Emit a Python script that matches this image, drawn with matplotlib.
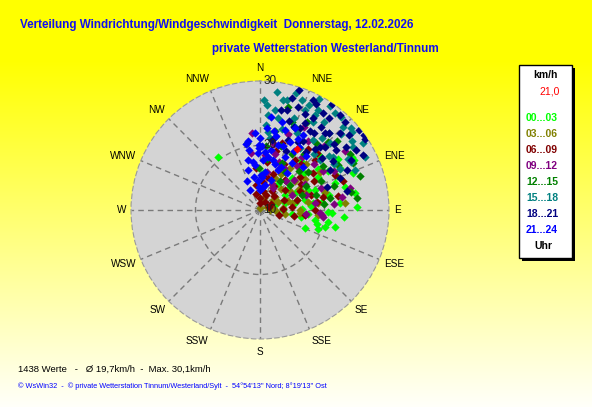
import numpy as np
import matplotlib
matplotlib.use("Agg")
import matplotlib.pyplot as plt
from matplotlib.patches import Rectangle

plt.rcParams["font.family"] = ["Liberation Sans", "DejaVu Sans"]

# wind direction (deg) / speed (km/h) samples, grouped by hour of day
hour_bins = ["00...03", "03...06", "06...09", "09...12",
             "12...15", "15...18", "18...21", "21...24"]
bin_colors = ["#00FF00", "#808000", "#800000", "#800080",
              "#008000", "#008080", "#000080", "#0000FF"]

h00_dir = [60, 62, 70, 75, 75, 82, 83, 92, 92, 100, 105, 103, 79, 77, 67, 60, 60, 57, 64, 74,
           72, 5, 104, 100, 88, 322, 85, 95, 68, 55, 50, 88, 108, 97, 62, 80, 45, 58, 112, 90,
           40, 48, 70, 78, 86, 95, 62, 53, 100, 66, 35, 75]
h00_spd = [26.4, 24.0, 22.4, 23.7, 20.4, 18.3, 19.7, 20.5, 21.2, 18.7, 20.4, 21.9, 15.5, 17.2, 18.1,
           20.3, 22.2, 24.4, 16.0, 14.0, 12.5, 15.8, 19.1, 20.7, 25.0, 20.5, 22.5, 23.0, 25.5, 21.0,
           19.0, 16.5, 19.5, 15.0, 26.5, 25.0, 17.0, 14.5, 17.5, 13.5,
           20.0, 22.5, 19.0, 21.0, 18.0, 17.5, 17.0, 15.5, 16.5, 23.0, 15.0, 16.0]

h03_dir = [0, 30, 85, 78, 90, 49, 83, 85, 94, 95, 52, 67, 60, 70, 40, 20, 75, 55, 100, 35,
           65, 45, 88, 10, 80, 58, 25, 30, 45, 62, 72, 50, 15, 95, 80]
h03_spd = [10.3, 14.1, 13.6, 15.1, 16.2, 13.1, 19.0, 23.2, 16.2, 19.0, 12.5, 11.2, 15.5, 17.5, 16.0,
           12.0, 20.5, 18.5, 14.0, 18.0, 13.0, 20.0, 11.5, 13.0, 12.0, 21.0, 15.5,
           16.5, 14.5, 16.8, 14.5, 17.0, 11.5, 12.5, 17.5]

h06_dir = [6, 0, 96, 65, 71, 0, 30, 68, 65, 73, 80, 12, 8, 20, 40, 50, 85, 100, 55, 35,
           45, 25, 60, 90, 15, 78, 345, 350, 48, 38, 30, 70, 105, 355, 62,
           20, 28, 42, 58, 75, 88, 10, 33, 52, 82, 45, 18]
h06_spd = [14.4, 11.1, 17.0, 22.8, 23.6, 11.8, 14.3, 14.0, 16.8, 18.2, 22.3, 15.2, 17.5, 12.5, 16.0,
           18.0, 15.0, 15.3, 20.0, 19.5, 13.0, 17.0, 12.0, 18.5, 19.5, 20.0, 12.5, 14.0, 21.5, 22.0,
           11.5, 11.5, 13.0, 16.5, 19.5,
           16.0, 18.0, 19.5, 17.5, 16.0, 13.5, 13.0, 13.5, 15.0, 19.0, 22.5, 21.0]

h09_dir = [354, 351, 81, 76, 93, 95, 96, 83, 95, 50, 30, 20, 40, 10, 60, 70, 45, 15, 35, 65,
           25, 55, 5, 85, 22, 38, 48, 58, 72, 12, 30, 42, 62, 28]
h09_spd = [22.0, 18.9, 22.9, 24.4, 19.3, 17.2, 19.8, 18.6, 19.6, 21.0, 17.5, 22.5, 19.0, 16.0, 18.0,
           20.0, 24.0, 19.0, 23.0, 15.5, 14.5, 26.0, 18.5, 21.5,
           18.0, 20.5, 17.0, 21.5, 17.5, 20.5, 14.0, 16.0, 23.0, 24.5]

h12_dir = [349, 15, 71, 79, 83, 63, 358, 11, 30, 45, 55, 65, 40, 25, 75, 20, 50, 60, 35, 85,
           5, 70, 48, 28, 18, 38, 52, 62, 72, 80, 33, 45, 8, 58]
h12_spd = [20.6, 26.5, 26.4, 24.4, 25.1, 26.2, 16.5, 22.5, 20.0, 18.5, 22.0, 20.5, 23.5, 18.0, 19.0,
           24.5, 16.0, 24.0, 15.5, 20.0, 20.0, 17.0, 26.0, 25.5,
           20.5, 21.0, 19.5, 18.0, 22.0, 21.0, 17.0, 25.0, 18.0, 26.5]

h15_dir = [4, 8.5, 5, 14, 21, 24, 25, 30, 38, 41, 11, 12, 8, 53, 50, 47, 41, 31, 20, 4,
           6, 63, 56, 60, 50, 54, 37, 42, 26, 45, 67, 34, 17, 28, 46, 58, 36, 12, 2, 63,
           15, 22, 33, 44, 52, 62, 8, 30, 48, 57]
h15_spd = [26.3, 25.7, 24.8, 27.6, 28.2, 27.0, 27.9, 27.9, 29.0, 29.2, 24.5, 21.5, 21.3, 27.9, 28.7,
           27.2, 24.7, 25.9, 25.2, 23.2, 22.1, 28.2, 27.4, 25.7, 22.1, 24.0, 23.6, 26.1, 23.2, 28.2,
           26.0, 29.4, 29.0, 29.5, 25.0, 23.5, 26.8, 27.5, 27.0, 24.0,
           23.0, 24.0, 21.5, 22.0, 23.5, 26.0, 28.5, 27.0, 29.0, 29.0]

h18_dir = [16, 26, 28, 34, 51, 54, 44, 26, 27, 37, 40, 22, 42, 56, 61, 56, 65, 68, 15, 12,
           22, 32, 10, 71, 78, 44, 48, 30, 35, 46, 20, 38, 50, 24, 58, 33, 42, 18, 52, 29,
           40, 36, 46, 54, 62, 18, 25, 32, 60, 50]
h18_spd = [28.1, 28.9, 28.6, 29.9, 29.8, 29.9, 28.9, 24.1, 25.2, 27.9, 25.6, 21.7, 22.8, 29.7, 26.1,
           23.7, 24.8, 23.4, 26.1, 25.9, 23.9, 22.7, 21.0, 21.0, 23.8, 23.5, 25.4, 26.5, 24.5, 27.2,
           27.0, 21.5, 22.5, 20.0, 27.5, 28.0, 26.0, 24.5, 25.0, 22.0,
           29.2, 26.0, 24.0, 26.5, 28.0, 29.5, 26.5, 24.5, 22.5, 28.0]

h21_dir = [336, 350, 350, 359, 350, 358, 354, 4, 335, 344, 5, 0, 359, 24, 23, 30, 9, 25, 34, 24,
           11, 0, 15, 8, 18, 3, 12, 30, 40, 20, 357, 6, 36, 14, 28, 2, 346, 10, 348, 45,
           5, 15, 20, 10, 356, 352, 2, 26, 32, 17, 7, 358]
h21_spd = [14.9, 15.2, 19.5, 19.6, 20.9, 18.8, 17.0, 15.1, 13.5, 16.5, 22.8, 21.2, 20.1, 21.5, 23.8,
           23.4, 18.3, 19.1, 18.8, 16.8, 14.0, 13.1, 20.5, 16.0, 17.5, 17.8, 21.8, 20.5, 21.0, 15.0,
           14.5, 13.5, 17.0, 24.0, 22.5, 20.0, 18.0, 19.5, 20.5, 19.5,
           19.0, 18.0, 20.5, 22.5, 22.0, 17.5, 15.5, 17.5, 21.5, 23.0, 24.5, 13.5]

groups = [(h00_dir, h00_spd), (h03_dir, h03_spd), (h06_dir, h06_spd), (h09_dir, h09_spd),
          (h12_dir, h12_spd), (h15_dir, h15_spd), (h18_dir, h18_spd), (h21_dir, h21_spd)]

current_dir = 31
current_spd = 21.0

compass = ["N", "NNE", "NE", "ENE", "E", "ESE", "SE", "SSE",
           "S", "SSW", "SW", "WSW", "W", "WNW", "NW", "NNW"]

W, H = 592, 407
fig = plt.figure(figsize=(W / 100, H / 100), dpi=100)

# yellow -> white background gradient
bg = fig.add_axes([0, 0, 1, 1], zorder=-10)
rows = np.linspace(0, 1, H)
fade = np.clip((rows * H - 60) / (H - 60), 0, 1)
grad = np.ones((H, 1, 3))
grad[:, 0, 2] = fade * 0.98
bg.imshow(grad, aspect="auto", extent=[0, 1, 0, 1], origin="upper")
bg.axis("off")


def fx(px):
    return px / W


def fy(py):
    return 1 - py / H


# polar plot, centre (260,210) px, radius 129 px
cx, cy, rad = 260, 210, 129
ax = fig.add_axes([fx(cx - rad), fy(cy + rad), 2 * rad / W, 2 * rad / H], projection="polar")
ax.set_theta_zero_location("N")
ax.set_theta_direction(-1)
ax.set_ylim(10, 30)
ax.set_facecolor("#D4D4D4")
ax.set_thetagrids(np.arange(0, 360, 22.5), [""] * 16)
ax.set_rgrids([20], [""])
ax.grid(True, color="#7a7a7a", linestyle=(0, (4, 3)), linewidth=1)
ax.spines["polar"].set_color("#9a9a9a")
ax.spines["polar"].set_linestyle((0, (4, 3)))
ax.set_axisbelow(True)
ax.tick_params(length=0)

for (d, s), col in zip(groups, bin_colors):
    ax.scatter(np.radians(d), s, marker="D", s=18, c=col, linewidths=0, zorder=3)
ax.scatter(np.radians(current_dir), current_spd, marker="D", s=18, c="#FF0000", linewidths=0, zorder=4)

# compass labels: right side left-aligned, left side right-aligned
for i, name in enumerate(compass):
    a = np.radians(i * 22.5)
    sx, cyy = np.sin(a), np.cos(a)
    if abs(sx) < 1e-6:
        ha = "center"
    elif sx > 0:
        ha = "left"
    else:
        ha = "right"
    fig.text(fx(cx + 134 * sx), fy(cy - 142 * cyy), name, ha=ha, va="center",
             fontsize=7.2, color="black")
for r in [30, 20, 10]:
    ax.annotate(str(r), xy=(0, r), xytext=(2.5, 0), textcoords="offset points",
                ha="left", va="center", fontsize=8.5, color="#202020", annotation_clip=False)

# titles
blue = "#1010F0"
fig.text(fx(20), fy(25), "Verteilung Windrichtung/Windgeschwindigkeit  Donnerstag, 12.02.2026",
         color=blue, fontsize=8.4, fontweight="bold", ha="left", va="center")
fig.text(fx(439), fy(49), "private Wetterstation Westerland/Tinnum",
         color=blue, fontsize=8.4, fontweight="bold", ha="right", va="center")

# legend box with shadow
fig.add_artist(Rectangle((fx(522), fy(261)), (572 - 519) / W, (258 - 65) / H,
                         transform=fig.transFigure, facecolor="black", edgecolor="none"))
fig.add_artist(Rectangle((fx(519), fy(258)), (572 - 519) / W, (258 - 65) / H,
                         transform=fig.transFigure, facecolor="white", edgecolor="black", lw=1))
fig.text(fx(545), fy(75), "km/h", fontsize=7.5, fontweight="bold", ha="center", va="center")
fig.text(fx(560), fy(92), "21,0", fontsize=7.5, color="#FF0000", ha="right", va="center")
for i, (lab, col) in enumerate(zip(hour_bins, bin_colors)):
    fig.text(fx(542), fy(118 + i * 16), lab, fontsize=7.5, fontweight="bold", color=col,
             ha="center", va="center")
fig.text(fx(543), fy(246), "Uhr", fontsize=7.5, fontweight="bold", ha="center", va="center")

# footer
fig.text(fx(18), fy(369), "1438 Werte   -   \u00d8 19,7km/h  -  Max. 30,1km/h",
         fontsize=6.8, ha="left", va="center")
fig.text(fx(18), fy(386),
         "\u00a9 WsWin32  -  \u00a9 private Wetterstation Tinnum/Westerland/Sylt  -  "
         "54\u00b054'13'' Nord; 8\u00b019'13'' Ost",
         fontsize=5.3, color="#0000FF", ha="left", va="center")

plt.savefig("out.png", dpi=100)
